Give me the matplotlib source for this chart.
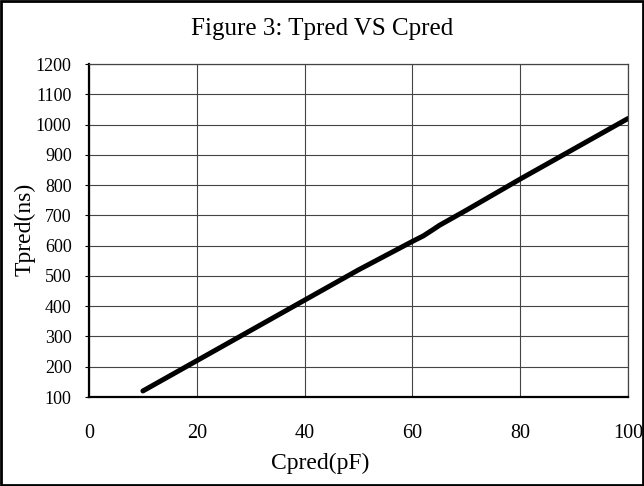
import matplotlib.pyplot as plt
from matplotlib.patches import Rectangle

# data
cpred = [10, 20, 30, 40, 50, 60, 62, 64, 65, 70, 80, 90, 100]
tpred = [120, 220, 320, 420, 520, 614, 632, 655, 667, 717, 820, 920, 1020]

xticks = [0, 20, 40, 60, 80, 100]
yticks = list(range(100, 1300, 100))

plt.rcParams['font.family'] = ['Liberation Serif', 'DejaVu Serif']

fig = plt.figure(figsize=(6.44, 4.86), dpi=100)
ax = fig.add_axes([0.1382, 0.1831, 0.837, 0.6852])

ax.plot(cpred, tpred, color='black', linewidth=3.6, solid_capstyle='round')

ax.set_xlim(0, 100)
ax.set_ylim(100, 1200)
ax.set_xticks(xticks)
ax.set_yticks(yticks)
ax.grid(True, color='#444444', linewidth=0.8)
ax.set_axisbelow(True)
ax.tick_params(axis='x', length=0, pad=19.5, labelsize=14.5)
ax.tick_params(axis='y', length=3, direction='out', pad=9.5, labelsize=13)

for side in ['left', 'bottom']:
    ax.spines[side].set_linewidth(1.6)
for side in ['top', 'right']:
    ax.spines[side].set_linewidth(0.9)
    ax.spines[side].set_color('#444444')

# axis titles and chart title placed in figure coords
fig.text(0.039, 0.528, 'Tpred(ns)', ha='center', va='center', rotation=90, fontsize=17)
fig.text(0.497, 0.047, 'Cpred(pF)', ha='center', va='center', fontsize=17)
fig.text(0.5, 0.94, 'Figure 3: Tpred VS Cpred', ha='center', va='center', fontsize=18)

# outer chart border
fig.patches.append(Rectangle((0.002, 0.003), 0.996, 0.994, transform=fig.transFigure,
                             fill=False, edgecolor='black', linewidth=2))

fig.savefig('out.png', dpi=100)
